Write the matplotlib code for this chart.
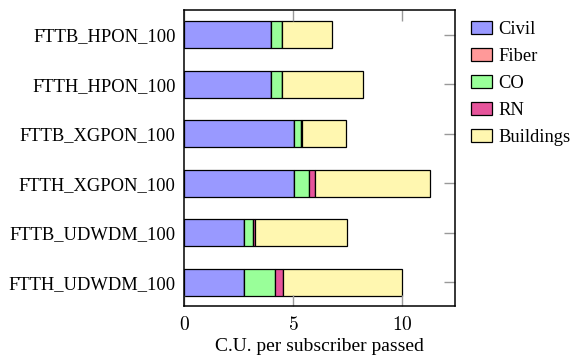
import numpy as np
import matplotlib
matplotlib.use("Agg")
import matplotlib.pyplot as plt

plt.rcParams["font.family"] = "Liberation Serif"
plt.rcParams["mathtext.fontset"] = "cm"

scenarios = ["FTTB_HPON_100", "FTTH_HPON_100", "FTTB_XGPON_100",
             "FTTH_XGPON_100", "FTTB_UDWDM_100", "FTTH_UDWDM_100"]
civil = [4.0, 4.0, 5.06, 5.06, 2.74, 2.74]
fiber = [0.0, 0.0, 0.0, 0.0, 0.0, 0.0]
co = [0.5, 0.5, 0.29, 0.67, 0.41, 1.45]
rn = [0.0, 0.0, 0.07, 0.30, 0.11, 0.37]
buildings = [2.3, 3.7, 2.03, 5.24, 4.22, 5.45]

parts = ["Civil", "Fiber", "CO", "RN", "Buildings"]
colors = ["#9999ff", "#ff9999", "#99ff99", "#e6549b", "#fff7b0"]


def main():
    fig = plt.figure(figsize=(5.81, 3.56), dpi=100)
    ax = fig.add_axes([0.3167, 0.1404, 0.4665, 0.8315])

    y = np.arange(len(scenarios))[::-1]
    left = np.zeros(len(scenarios))
    for name, vals, col in zip(parts, [civil, fiber, co, rn, buildings], colors):
        ax.barh(y, vals, left=left, height=0.54, color=col, edgecolor="black",
                linewidth=0.9, label=name)
        left += np.array(vals)

    ax.set_xlim(0, 12.43)
    ax.set_ylim(-0.48, 5.5)
    ax.set_yticks(y)
    ax.set_yticklabels(scenarios, fontsize=13.3)
    ax.set_xticks([0, 5, 10])
    ax.set_xticklabels(["$0$", "$5$", "$10$"], fontsize=14)
    ax.set_xlabel("C.U. per subscriber passed", fontsize=14, labelpad=3)

    ax.tick_params(axis="x", direction="in", length=8, width=1, color="#999999",
                   top=True, bottom=True, pad=7)
    ax.tick_params(axis="y", direction="in", length=8, width=1, color="#999999",
                   left=False, right=True, pad=6)
    for s in ax.spines.values():
        s.set_linewidth(1.1)

    fig.legend(loc="upper left", bbox_to_anchor=(0.8107, 0.941), frameon=False,
               fontsize=13.3, handlelength=1.14, handleheight=0.7,
               labelspacing=0.54, handletextpad=0.35, borderpad=0,
               borderaxespad=0)

    fig.savefig("out.png", dpi=100)


if __name__ == "__main__":
    main()
